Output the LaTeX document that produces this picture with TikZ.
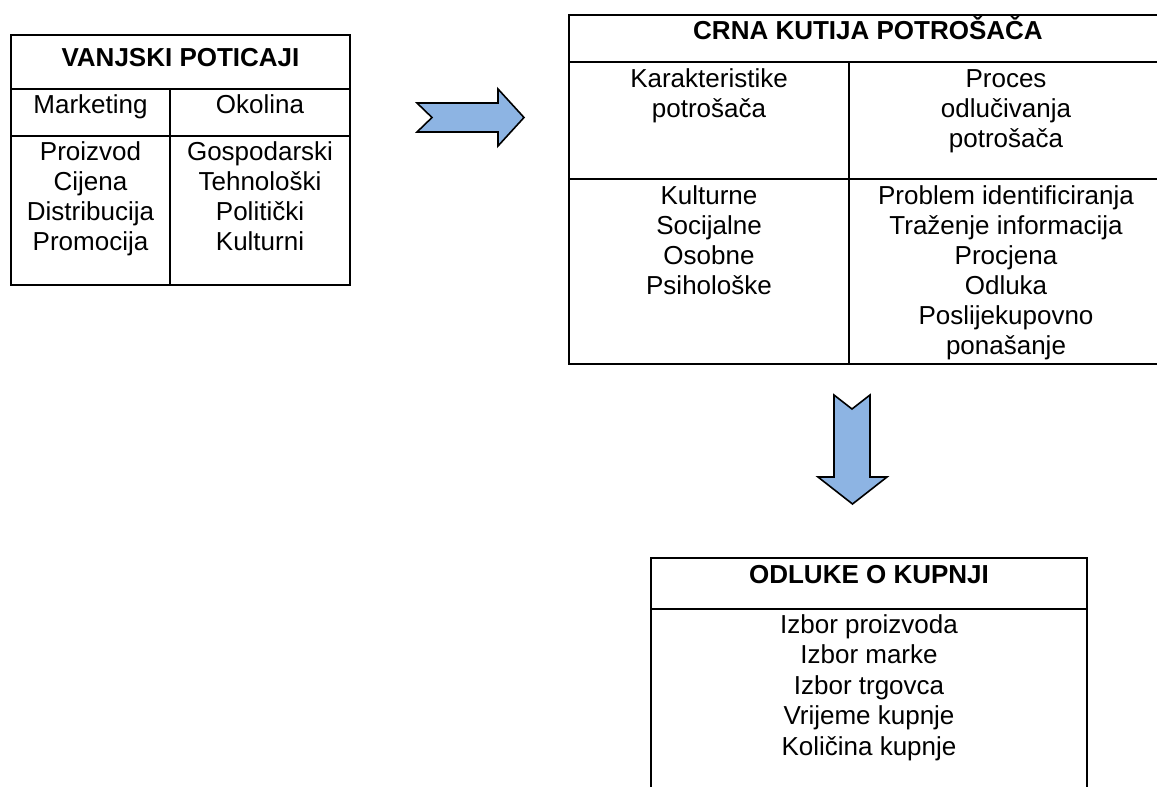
\documentclass[tikz,border=0pt]{standalone}
\usepackage{fontspec}
\setmainfont{Liberation Sans}
\definecolor{arrowblue}{RGB}{141,180,227}
\begin{document}
\begin{tikzpicture}[x=1pt,y=-1pt,
  frame/.style={draw=black, line width=2pt},
  divider/.style={draw=black, line width=2pt},
  txt/.style={anchor=base, inner sep=0pt, font=\fontsize{26}{30}\selectfont},
  ttl/.style={anchor=base, inner sep=0pt, font=\fontsize{26}{30}\selectfont\bfseries},
  blockarrow/.style={draw=black, line width=1.6pt, fill=arrowblue, line join=miter}]
\useasboundingbox (0,0) rectangle (1157,787);

% ---------- VANJSKI POTICAJI ----------
\draw[frame] (11,35) rectangle (350,285);
\draw[divider] (11,89) -- (350,89);
\draw[divider] (11,136) -- (350,136);
\draw[divider] (170,89) -- (170,285);
\node[ttl] (vpt) at (180.5,66) {VANJSKI POTICAJI};
\node[txt] (vpm) at (90.5,113) {Marketing};
\node[txt] (vpo) at (260,113) {Okolina};
\foreach \t [count=\i from 0] in {Proizvod,Cijena,Distribucija,Promocija}
  \node[txt] (vpl\i) at (90.5,{160.7+30*\i}) {\t};
\foreach \t [count=\i from 0] in {Gospodarski,Tehnološki,Politički,Kulturni}
  \node[txt] (vpr\i) at (260,{160.7+30*\i}) {\t};

% ---------- right arrow ----------
\draw[blockarrow] (417,103) -- (498,103) -- (498,89) -- (524,117.5) -- (498,146)
  -- (498,132) -- (417,132) -- (432,117.5) -- cycle;

% ---------- CRNA KUTIJA POTROŠAČA ----------
\draw[frame] (569,15) rectangle (1167,364);
\draw[divider] (569,62) -- (1167,62);
\draw[divider] (569,179) -- (1167,179);
\draw[divider] (849,62) -- (849,364);
\node[ttl] (ckt) at (868,39) {CRNA KUTIJA POTROŠAČA};
\foreach \t [count=\i from 0] in {Karakteristike,potrošača}
  \node[txt] (ckh\i) at (709,{87+30*\i}) {\t};
\foreach \t [count=\i from 0] in {Proces,odlučivanja,potrošača}
  \node[txt] (ckp\i) at (1006,{87+30*\i}) {\t};
\foreach \t [count=\i from 0] in {Kulturne,Socijalne,Osobne,Psihološke}
  \node[txt] (ckl\i) at (709,{204+30*\i}) {\t};
\foreach \t [count=\i from 0] in {Problem identificiranja,Traženje informacija,Procjena,Odluka,Poslijekupovno,ponašanje}
  \node[txt] (ckr\i) at (1006,{204+30*\i}) {\t};

% ---------- down arrow ----------
\draw[blockarrow] (834,395) -- (852,409) -- (870,395) -- (870,477) -- (887,477)
  -- (852.5,504) -- (818,477) -- (834,477) -- cycle;

% ---------- ODLUKE O KUPNJI ----------
\draw[frame] (651,800) -- (651,558) -- (1087,558) -- (1087,800);
\draw[divider] (651,609) -- (1087,609);
\node[ttl] (okt) at (869,583) {ODLUKE O KUPNJI};
\foreach \t [count=\i from 0] in {Izbor proizvoda,Izbor marke,Izbor trgovca,Vrijeme kupnje,Količina kupnje}
  \node[txt] (oki\i) at (869,{633+30.5*\i}) {\t};
\end{tikzpicture}
\end{document}
